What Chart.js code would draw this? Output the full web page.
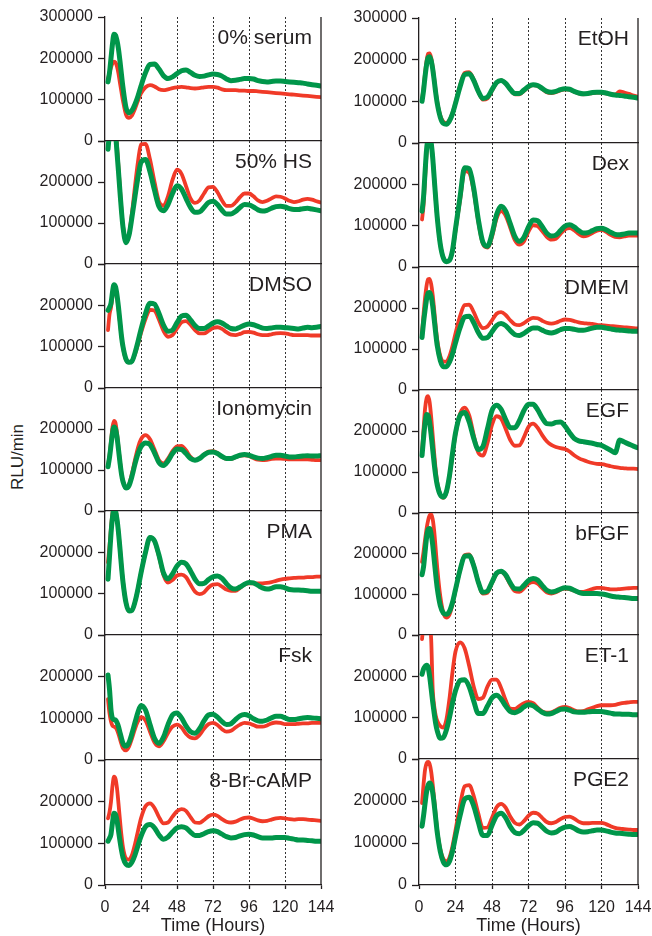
<!DOCTYPE html>
<html>
<head>
<meta charset="utf-8">
<script src="https://cdn.jsdelivr.net/npm/chart.js@4.4.1/dist/chart.umd.min.js"></script>
<style>
  html, body { margin: 0; padding: 0; background: #fff; overflow: hidden; }
  #wrap { position: relative; width: 652px; height: 936px; }
  #wrap canvas { position: absolute; }
  #ylab {
    position: absolute; left: 18px; top: 457px;
    transform: translate(-50%, -50%) rotate(-90deg);
    font: 17px "Liberation Sans", Arial, sans-serif; color: #231f20; white-space: nowrap;
  }
</style>
</head>
<body>
<div id="wrap"><div id="ylab">RLU/min</div></div>
<script>
// Sample times (hours) shared by every trace
const hours = [2, 3, 4, 5, 6, 7, 8, 9, 10, 11, 12,
  14, 16, 18, 20, 22,
  24, 27, 30, 33, 36, 39, 42, 45, 48, 51, 54, 57, 60, 63, 66, 69, 72, 75, 78, 81,
  84, 87, 90, 93, 96, 99, 102, 105, 108, 111, 114, 117, 120, 123, 126, 129, 132, 135, 138, 141, 144];

// y tick labels (values below are in thousands of RLU/min)
const yTickLabels = ['0', '100000', '200000', '300000'];

// --- left column ---
const serum0Green = [143,165,200,235,258,256,243,222,193,160,129, 81,68,74,89,109,
  133,165,185,186,174,158,151,155,163,170, 172,166,159,156,157,160,162,161,157,150,
  146,147,149,151,151,150,146,144,143,144, 145,145,144,143,142,141,140,138,136,135, 133];
const serum0Red = [150,165,178,188,192,190,180,163,140,118,97, 64,56,62,78,98,
  115,130,135,132,125,123,125,128,130,131, 130,128,127,128,130,131,131,129,125,123,
  123,123,122,122,121,121,120,119,118,117, 116,115,114,113,112,111,110,109,108,107, 106];

const hs50Green = [280,320,350,360,350,320,272,225,175,128,90, 52,70,115,165,212,
  248,255,225,180,140,130,145,172,191,183, 160,138,126,127,138,150,153,145,131,122,
  122,128,138,145,144,139,132,129,131,136, 140,141,139,135,133,133,135,136,134,132, 130];
const hs50Red = [310,360,380,380,370,340,290,235,180,130,92, 53,72,125,190,250,
  292,293,255,200,152,142,165,205,230,220, 190,160,149,155,172,187,188,175,155,142,
  142,150,163,172,172,165,155,151,154,160, 165,164,160,154,151,153,157,159,157,153, 150];

const dmsoGreen = [188,195,205,232,250,245,225,195,160,125,100, 70,62,65,85,112,
  142,180,205,203,180,152,137,140,158,174, 176,165,151,144,144,150,157,160,157,150,
  144,143,147,152,155,153,149,145,144,145, 147,147,146,145,144,143,145,147,146,147, 149];
const dmsoRed = [140,178,195,222,242,238,220,192,158,124,98, 68,62,65,82,106,
  133,167,189,187,165,138,124,128,144,159, 162,153,140,132,132,138,145,147,143,135,
  129,128,131,135,136,134,130,128,128,130, 132,133,132,130,128,128,128,128,127,127, 127];

const ionoGreen = [108,130,160,190,205,200,180,150,118,90,72, 56,62,85,115,140,
  157,166,162,142,118,111,122,140,151,150, 140,128,124,128,137,143,144,140,133,128,
  128,132,136,138,136,132,129,128,130,133, 136,136,134,132,132,133,134,135,134,134, 135];
const ionoRed = [112,135,170,205,220,215,190,155,120,92,72, 56,65,92,125,155,
  175,185,175,150,124,116,128,146,158,159, 148,132,124,128,138,145,146,141,132,127,
  127,131,135,136,134,129,125,124,125,127, 128,128,127,126,126,126,126,126,125,124, 124];

const pmaGreen = [135,190,245,285,305,300,280,248,208,165,128, 78,58,60,80,112,
  150,200,236,228,193,150,136,148,167,176, 172,155,135,124,125,134,141,143,137,124,
  114,111,116,123,127,126,120,114,111,113, 117,117,114,110,109,109,108,107,106,106, 106];
const pmaRed = [176,215,260,295,310,305,282,250,208,165,128, 78,58,60,80,112,
  150,200,236,227,190,145,127,133,144,146, 140,122,105,99,103,115,122,123,117,110,
  107,107,114,122,125,125,125,125,126,128, 131,134,136,137,138,139,139,140,140,141, 141];

const fskGreen = [204,170,120,100,97,96,90,80,66,52,40, 33,42,64,90,115,
  131,120,85,52,40,55,85,108,113,101, 82,68,64,75,94,108,110,103,92,85,
  87,97,106,109,106,99,94,93,96,101, 105,105,101,97,97,99,101,102,101,100, 99];
const fskRed = [146,112,92,82,80,78,72,62,50,38,28, 23,32,52,75,93,
  103,95,68,42,33,45,65,80,85,78, 63,54,52,60,75,86,89,84,74,68,
  70,78,85,89,88,84,80,80,83,88, 90,89,86,86,86,87,88,88,89,89, 89];

const campGreen = [105,112,122,150,172,170,155,130,105,83,66, 50,47,55,72,95,
  117,140,145,137,120,110,115,127,137,140, 137,127,119,119,123,128,130,128,122,116,
  113,114,118,121,122,120,116,113,113,113, 114,114,114,112,110,108,108,107,106,105, 105];
const campRed = [160,175,200,238,260,255,232,195,155,118,90, 64,61,72,98,130,
  160,189,196,185,163,148,150,164,177,182, 178,163,150,149,156,165,169,166,158,152,
  150,152,157,161,162,159,155,153,154,157, 160,161,160,158,157,158,158,157,156,155, 154];

// --- right column ---
const etohGreen = [100,126,160,188,205,207,198,178,150,120,95, 62,47,45,53,70,
  95,135,164,166,150,124,107,110,128,145, 150,143,129,119,119,127,136,140,138,131,
  124,122,124,128,130,129,124,120,118,119, 121,122,122,120,117,115,114,113,111,110, 108];
const etohRed = [105,132,168,198,214,215,205,183,154,124,99, 66,51,48,55,72,
  97,138,168,170,152,124,104,107,126,144, 150,143,128,117,117,125,134,139,137,130,
  122,120,122,126,129,128,123,119,117,118, 120,121,121,119,117,116,124,121,118,114, 111];

const dexGreen = [135,170,230,285,310,312,300,265,215,165,120, 55,22,13,16,40,
  92,170,240,238,190,115,60,50,80,127, 147,135,105,74,62,72,97,114,112,98,
  82,75,77,88,99,102,97,88,82,83, 88,93,94,90,84,79,78,80,82,82, 82];
const dexRed = [115,150,215,275,305,312,300,265,215,165,120, 55,22,13,16,38,
  88,162,232,228,183,110,56,47,73,117, 135,124,95,65,54,62,86,101,99,87,
  73,66,68,80,91,94,89,80,74,76, 82,88,90,85,78,73,72,74,76,76, 76];

const dmemGreen = [128,165,195,222,237,238,228,205,172,138,108, 72,57,57,68,88,
  115,152,178,180,164,140,126,128,142,157, 162,157,145,135,133,138,146,151,151,146,
  141,139,142,147,150,150,148,146,146,148, 151,153,153,151,149,147,146,145,144,143, 143];
const dmemRed = [140,185,225,255,270,271,258,232,195,155,122, 83,69,69,82,107,
  138,180,207,208,190,165,151,155,170,186, 190,183,170,160,158,163,171,176,175,169,
  164,162,164,169,172,171,168,165,163,162, 161,159,158,157,156,155,154,153,152,151, 150];

const egfGreen = [140,183,220,240,238,220,190,155,120,90,68, 44,39,52,90,145,
  195,238,245,222,182,155,162,205,250,263, 253,228,208,208,225,250,265,265,252,232,
  218,217,221,222,212,196,182,176,174,172, 170,167,165,159,153,147,178,173,168,163, 159];
const egfRed = [150,205,255,280,285,270,235,190,145,105,75, 45,37,50,88,140,
  192,242,257,238,190,147,140,170,215,236, 230,205,178,164,165,185,210,218,208,190,
  175,166,161,158,156,150,141,134,129,125, 122,120,119,117,114,112,110,109,108,108, 107];

const bfgfGreen = [148,168,205,240,260,262,248,222,185,148,115, 72,54,51,58,80,
  112,160,194,195,170,130,105,108,130,152, 157,148,128,114,113,122,134,139,135,122,
  110,106,108,113,116,115,110,105,102,102, 102,102,101,99,96,94,93,92,91,90, 90];
const bfgfRed = [180,205,235,262,282,294,297,285,255,210,165, 95,55,43,50,75,
  110,160,196,198,172,130,102,104,128,150, 155,145,124,108,106,115,126,130,126,115,
  105,102,105,111,114,113,109,106,106,109, 113,116,116,114,112,112,113,114,115,116, 116];

const et1Green = [205,218,224,227,222,200,170,138,110,85,68, 50,52,70,100,135,
  165,190,192,175,140,110,110,128,148,154, 145,128,115,112,117,126,131,129,121,113,
  109,110,115,120,121,118,114,113,113,114, 115,115,115,113,111,109,109,108,108,107, 107];
const et1Red = [290,330,345,345,340,325,290,170,128,105,92, 80,76,95,145,210,
  260,282,268,225,175,145,148,175,192,192, 172,142,122,121,128,135,138,135,124,115,
  112,113,118,124,126,123,118,115,116,120, 124,128,130,130,130,131,134,136,137,138, 138];

const pge2Green = [140,165,195,222,238,243,238,220,192,158,125, 80,55,48,56,80,
  115,165,204,209,188,150,118,118,142,165, 171,160,139,125,122,130,141,148,147,138,
  128,124,126,133,138,139,135,129,126,127, 129,131,131,129,126,124,123,122,121,120, 120];
const pge2Red = [195,240,275,290,293,288,270,240,205,165,130, 85,62,56,65,92,
  130,190,235,238,212,170,136,137,160,185, 193,184,163,148,144,152,165,172,170,160,
  150,147,150,157,162,163,158,151,147,147, 148,148,148,145,140,136,134,133,132,131, 131];

const leftTitles = ['0% serum', '50% HS', 'DMSO', 'Ionomycin', 'PMA', 'Fsk', '8-Br-cAMP'];
const leftRed = [serum0Red, hs50Red, dmsoRed, ionoRed, pmaRed, fskRed, campRed];
const leftGreen = [serum0Green, hs50Green, dmsoGreen, ionoGreen, pmaGreen, fskGreen, campGreen];
const rightTitles = ['EtOH', 'Dex', 'DMEM', 'EGF', 'bFGF', 'ET-1', 'PGE2'];
const rightRed = [etohRed, dexRed, dmemRed, egfRed, bfgfRed, et1Red, pge2Red];
const rightGreen = [etohGreen, dexGreen, dmemGreen, egfGreen, bfgfGreen, et1Green, pge2Green];

// layout (pixel positions of panel edges)
const LEFT_TOPS = [17, 141, 264, 388, 511, 635, 760, 885];
const RIGHT_TOPS = [18, 143, 267, 390, 513, 635, 759, 885];
const INK = '#231f20';
const GREEN = '#00964a';
const RED = '#f03a28';
const FONT = '"Liberation Sans", Arial, sans-serif';

// right border + panel name
const framePlugin = {
    id: 'frame',
    afterDraw(chart, args, opts) {
        const { ctx, chartArea: a } = chart;
        ctx.save();
        ctx.strokeStyle = INK;
        ctx.lineWidth = 1.3;
        ctx.beginPath();
        ctx.moveTo(a.right, a.top);
        ctx.lineTo(a.right, a.bottom);
        ctx.stroke();
        ctx.font = '21px ' + FONT;
        ctx.fillStyle = INK;
        ctx.textAlign = 'right';
        ctx.textBaseline = 'alphabetic';
        ctx.fillText(opts.text, a.right - 9, a.top + 27);
        ctx.restore();
    }
};

function toPoints(values) {
    return hours.map((h, i) => ({ x: h, y: values[i] }));
}

function makePanel(col, row, title, red, green) {
    const isLeft = col === 0;
    const isBottom = row === 6;
    const tops = isLeft ? LEFT_TOPS : RIGHT_TOPS;
    const top = tops[row];
    const plotH = tops[row + 1] - top;
    const W = isLeft ? 340 : 322;
    const H = 12 + plotH + (isBottom ? 52 : 12);

    const canvas = document.createElement('canvas');
    canvas.width = W;
    canvas.height = H;
    canvas.style.width = W + 'px';
    canvas.style.height = H + 'px';
    canvas.style.left = (isLeft ? 0 : 330) + 'px';
    canvas.style.top = (top - 12) + 'px';
    document.getElementById('wrap').appendChild(canvas);

    new Chart(canvas, {
        type: 'line',
        data: {
            datasets: [
                { data: toPoints(green), borderColor: GREEN, borderWidth: 5, pointRadius: 0,
                  cubicInterpolationMode: 'monotone', borderCapStyle: 'round', borderJoinStyle: 'round' },
                { data: toPoints(red), borderColor: RED, borderWidth: 3.8, pointRadius: 0,
                  cubicInterpolationMode: 'monotone', borderCapStyle: 'round', borderJoinStyle: 'round' }
            ]
        },
        options: {
            responsive: false,
            animation: false,
            events: [],
            layout: { padding: { left: 0, right: isLeft ? 19 : 14, top: 12, bottom: isBottom ? 0 : 12 } },
            plugins: {
                legend: { display: false },
                tooltip: { enabled: false },
                frame: { text: title }
            },
            scales: {
                x: {
                    type: 'linear', min: 0, max: 144,
                    afterFit: s => { s.height = isBottom ? 52 : 0; s.paddingLeft = 0; s.paddingRight = 0; },
                    grid: {
                        color: c => (c.tick && (c.tick.value === 0 || c.tick.value === 144)) ? 'rgba(0,0,0,0)' : '#333',
                        lineWidth: 1,
                        drawTicks: isBottom, tickLength: 4,
                        tickColor: INK, tickWidth: 1.3, tickBorderDash: []
                    },
                    border: { display: true, color: INK, width: 1.3, dash: [2, 2] },
                    ticks: {
                        display: isBottom, stepSize: 24, autoSkip: false, maxRotation: 0,
                        padding: 9, color: INK, font: { family: FONT, size: 16 }
                    },
                    title: {
                        display: isBottom, text: 'Time (Hours)', color: INK,
                        font: { family: FONT, size: 18 }, padding: 0
                    }
                },
                y: {
                    min: 0, max: 300,
                    afterFit: s => { s.width = isLeft ? 105 : 89; s.paddingTop = 0; s.paddingBottom = 0; },
                    grid: {
                        drawOnChartArea: false, drawTicks: true, tickLength: 7,
                        color: INK, tickColor: INK, tickWidth: 1.3, tickBorderDash: []
                    },
                    border: { display: true, color: INK, width: 1.3 },
                    ticks: {
                        stepSize: 100, padding: 5, color: INK, font: { family: FONT, size: 16 },
                        callback: v => (row === 0 || v < 300) ? yTickLabels[Math.round(v / 100)] : ''
                    }
                }
            }
        },
        plugins: [framePlugin]
    });
}

for (let r = 0; r < 7; r++) {
    makePanel(0, r, leftTitles[r], leftRed[r], leftGreen[r]);
    makePanel(1, r, rightTitles[r], rightRed[r], rightGreen[r]);
}
</script>
</body>
</html>
